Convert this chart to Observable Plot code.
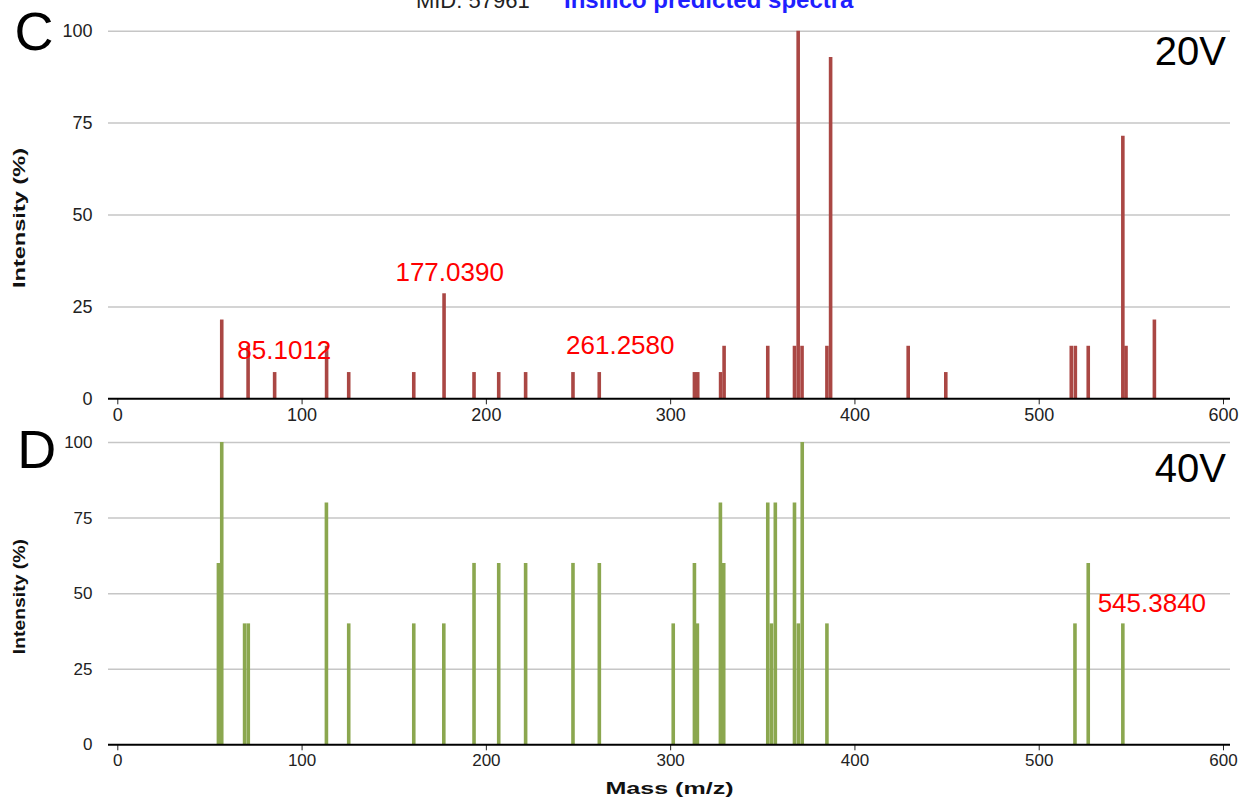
<!DOCTYPE html>
<html><head><meta charset="utf-8">
<script src="https://cdn.jsdelivr.net/npm/d3@7"></script>
<script src="https://cdn.jsdelivr.net/npm/@observablehq/plot@0.6"></script>
<style>
html,body{margin:0;padding:0;background:#fff;}
#wrap{position:relative;width:1239px;height:798px;overflow:hidden;font-family:"Liberation Sans",Arial,sans-serif;}
#wrap svg{position:absolute;left:0;}
</style></head><body><div id="wrap"></div>
<script>
// ---- data ----
const mz20 = [56.4, 70.7, 85.1012, 113.3, 125.3, 160.6, 177.039, 193.3, 206.7, 221.3, 247.0, 261.258, 312.9, 314.7, 327.1, 329.0, 352.7, 367.2, 369.2, 371.3, 384.8, 386.8, 428.9, 449.3, 517.4, 519.6, 526.6, 545.384, 547.1, 562.5];
const int20 = [21.43, 14.29, 7.14, 14.29, 7.14, 7.14, 28.57, 7.14, 7.14, 7.14, 7.14, 7.14, 7.14, 7.14, 7.14, 14.29, 14.29, 14.29, 100, 14.29, 14.29, 92.86, 14.29, 7.14, 14.29, 14.29, 14.29, 71.43, 14.29, 21.43];
const mz40 = [54.6, 56.4, 68.8, 70.8, 113.2, 125.3, 160.6, 176.9, 193.3, 206.7, 221.3, 247.0, 261.3, 301.4, 312.9, 314.5, 327.0, 328.8, 352.7, 354.7, 356.8, 367.2, 369.3, 371.4, 384.8, 519.4, 526.6, 545.384];
const int40 = [60, 100, 40, 40, 80, 40, 40, 40, 60, 60, 60, 60, 60, 40, 60, 40, 80, 60, 80, 40, 80, 80, 40, 100, 40, 40, 60, 40];
const xTicks = [0, 100, 200, 300, 400, 500, 600];
const yTicks = [0, 25, 50, 75, 100];
const labelMz20 = [85.1012, 177.0390, 261.2580];
const labelText20 = ["85.1012", "177.0390", "261.2580"];
const labelMz40 = [545.3840];
const labelText40 = ["545.3840"];

// ---- layout constants ----
const FONT = '"Liberation Sans", Arial, sans-serif';
const labelOffsets20 = [[9.7, -22.3], [5.6, -21.3], [21, -26.6]];
const labelOffsets40 = [[29, -20.7]];

function peakLabels(mzs, texts, series, offsets) {
  return mzs.map((m, k) => {
    const idx = series.mz.indexOf(m);
    return Plot.text([{mz: m, i: series.inten[idx], t: texts[k]}], {
      x: "mz", y: "i", text: "t", dx: offsets[k][0], dy: offsets[k][1],
      lineAnchor: "middle", textAnchor: "middle",
      fill: "#ff0000", fontSize: 26, fontFamily: FONT
    });
  });
}

function label(str, opts) {
  return Plot.text([str], {lineAnchor: "middle", fontFamily: FONT, fill: "#000", ...opts});
}

function panel(o) {
  const data = o.mz.map((m, i) => ({mz: m, i: o.inten[i]}));
  return Plot.plot({
    width: 1239, height: o.height,
    marginTop: o.marginTop, marginBottom: o.marginBottom, marginLeft: 108, marginRight: 9,
    x: {domain: [-5.05, 603.8], ticks: xTicks, tickSize: 6, tickPadding: 3, label: null, tickFormat: d => String(d)},
    y: {domain: [0, 100], ticks: yTicks, tickSize: 0, tickPadding: 16, label: null},
    style: {fontFamily: FONT, fontSize: o.tickFont + "px", color: "#222", background: "transparent", overflow: "visible"},
    marks: [
      Plot.ruleY(yTicks.filter(t => t > 0), {stroke: "#c6c6c6", strokeWidth: 1.5}),
      Plot.ruleX(data, {x: "mz", y1: 0, y2: "i", stroke: o.color, strokeWidth: 3.6}),
      Plot.ruleY([0], {stroke: "#000", strokeWidth: 2}),
      ...o.extras
    ]
  });
}

const wrap = document.getElementById("wrap");

// Panel D (40V), placed first so C draws on top where they overlap
const svgD = panel({
  mz: mz40, inten: int40, color: "#8ba74f", height: 378, marginTop: 22, marginBottom: 53.7, tickFont: 17,
  extras: [
    label("D", {frameAnchor: "top-left", textAnchor: "start", dx: -91.3, dy: 8.7, fontSize: 54}),
    label("40V", {frameAnchor: "top-right", textAnchor: "end", dx: -4.5, dy: 26.2, fontSize: 40}),
    label("Intensity (%)", {frameAnchor: "left", textAnchor: "middle", rotate: -90, dx: -88.5, dy: 3, fontSize: 16, fontWeight: "bold", fill: "#111"}),
    label("Mass (m/z)", {frameAnchor: "bottom", textAnchor: "middle", dy: 43.6, fontSize: 17, fontWeight: "bold", fill: "#111"}),
    ...peakLabels(labelMz40, labelText40, {mz: mz40, inten: int40}, labelOffsets40)
  ]
});
svgD.style.top = "420px";
wrap.appendChild(svgD);

// Panel C (20V)
const svgC = panel({
  mz: mz20, inten: int20, color: "#aa4744", height: 432, marginTop: 30.7, marginBottom: 33.7, tickFont: 18,
  extras: [
    label("C", {frameAnchor: "top-left", textAnchor: "start", dx: -94, dy: 1.5, fontSize: 54}),
    label("20V", {frameAnchor: "top-right", textAnchor: "end", dx: -4.5, dy: 21.2, fontSize: 40}),
    label("MID: 57961", {frameAnchor: "top-left", textAnchor: "start", dx: 307.4, dy: -30, fontSize: 22, fill: "#222"}),
    label("Insilico predicted spectra", {frameAnchor: "top-left", textAnchor: "start", dx: 455.5, dy: -30.4, fontSize: 24, fontWeight: "bold", fill: "#1f1fff"}),
    label("Intensity (%)", {frameAnchor: "left", textAnchor: "middle", rotate: -90, dx: -88.5, dy: 3, fontSize: 16, fontWeight: "bold", fill: "#111"}),
    ...peakLabels(labelMz20, labelText20, {mz: mz20, inten: int20}, labelOffsets20)
  ]
});
svgC.style.top = "0px";
wrap.appendChild(svgC);

// stretch axis titles to the lengths seen in the reference
function stretch(svg, str, len) {
  svg.querySelectorAll("text").forEach(t => {
    if (t.textContent === str) {
      t.setAttribute("textLength", len);
      t.setAttribute("lengthAdjust", "spacingAndGlyphs");
    }
  });
}
stretch(svgC, "Intensity (%)", 140);
stretch(svgD, "Intensity (%)", 115);
stretch(svgD, "Mass (m/z)", 128);
</script>
</body></html>
